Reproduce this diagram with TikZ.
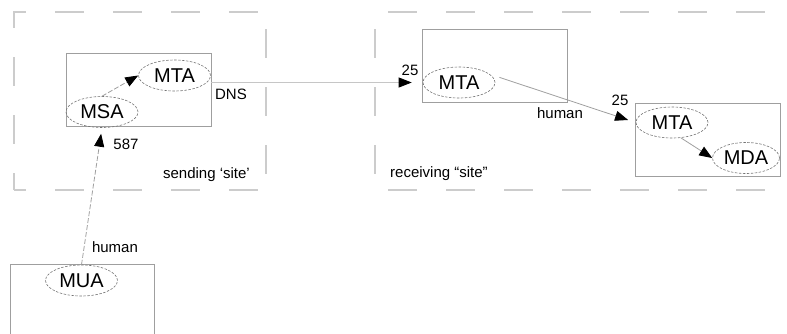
\documentclass[tikz,border=0pt]{standalone}
\usepackage{fontspec}
\setmainfont{Liberation Sans}
\usetikzlibrary{arrows.meta,shapes.geometric}

\begin{document}
\begin{tikzpicture}[
    x=1pt, y=-1pt,
    site/.style={draw=gray!40, line width=1.1pt, dash pattern=on 29pt off 29pt},
    host/.style={draw=gray!75, line width=0.6pt},
    agent/.style={ellipse, draw=gray!90!black, dash pattern=on 2.5pt off 1.5pt, line width=0.6pt, inner sep=0pt, minimum width=72pt, minimum height=31pt, font=\fontsize{20}{23}\selectfont},
    lbl/.style={inner sep=0pt, font=\fontsize{15}{17}\selectfont},
    arrow/.style={-{Triangle[length=13pt,width=10pt,color=black]}, draw=gray!75, line width=0.8pt},
    dasharrow/.style={arrow, dash pattern=on 5pt off 2pt}
]
\useasboundingbox (0,0) rectangle (787,333);
\clip (0,0) rectangle (787,333);

% sites
\draw[site, dash phase=17pt] (14,12) -- (266,12);
\draw[site, dash phase=17pt] (14,190) -- (266,190);
\draw[site, dash phase=12pt] (14,11) -- (14,190);
\draw[site, dash phase=41pt] (266,12) -- (266,190);
\draw[site, dash phase=45pt] (375,12) -- (800,12);
\draw[site, dash phase=45pt] (375,190) -- (800,190);
\draw[site, dash phase=41pt] (375,12) -- (375,190);

% hosts
\draw[host] (66,53) rectangle (211,126);
\draw[host] (422,29) rectangle (567,102);
\draw[host] (635,103) rectangle (780,176);
\draw[host] (10,264) rectangle (154,340);

% agents
\node[agent] (smsa) at (102,112) {MSA};
\node[agent] (smta) at (174.5,75.5) {MTA};
\node[agent] (rmta) at (459,82.5) {MTA};
\node[agent] (dmta) at (672,122.5) {MTA};
\node[agent, minimum width=67pt] (mda) at (746,158) {MDA};
\node[agent] (mua) at (81.5,280.5) {MUA};

% labels
\node[lbl] (dns) at (231,94.5) {DNS};
\node[lbl] (submit) at (126,144) {587};
\node[lbl] (smtpa) at (410,70) {25};
\node[lbl] (smtpb) at (620,100) {25};
\node[lbl] (relay) at (560,113) {human};
\node[lbl] (user) at (115,247) {human};
\node[lbl] (sendsite) at (206.5,175) {sending ‘site’};
\node[lbl] (recvsite) at (439,173.5) {receiving “site”};

% connectors
\draw[dasharrow] (smsa.north) -- (smta.west);
\draw[arrow, draw=gray!45, shorten >=11pt] (smta.east |- rmta.west) -- (rmta.west);
\draw[arrow, shorten <=10pt, shorten >=8pt] (rmta.15) -- (dmta.west);
\draw[arrow] (dmta.-60) -- (mda.west);
\draw[dasharrow, shorten >=6pt] (mua.north) -- (smsa.south);
\end{tikzpicture}
\end{document}
